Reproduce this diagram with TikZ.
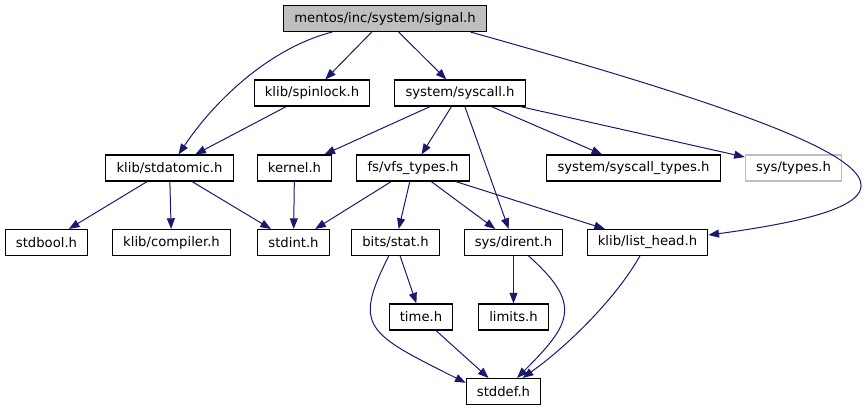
\documentclass[tikz,border=0pt]{standalone}
\usepackage{fontspec}
\setmainfont{DejaVu Sans}
\definecolor{edgeblue}{HTML}{191970}
\definecolor{boxgray}{HTML}{BFBFBF}
\usetikzlibrary{arrows.meta}
\tikzset{
	hfile/.style={draw=black, line width=0.8pt, inner xsep=8pt, inner ysep=0pt,
	  minimum height=19.5pt, font=\fontsize{9.9pt}{11pt}\selectfont}
}
\tikzset{
	dep/.style={edgeblue, line width=0.75pt, -{Triangle[length=8pt,width=6pt]}}
}

\begin{document}
\begin{tikzpicture}[x=0.75pt,y=-0.75pt]
  \useasboundingbox (0,0) rectangle (868,411);
  \node[hfile, fill=boxgray] (sig) at (385,18.5) {mentos/inc/system/signal.h};
  \foreach \n/\x/\y/\t in {
    spin/312/93/{klib/spinlock.h}, sysc/460/93/{system/syscall.h},
    atomic/169.5/168/{klib/stdatomic.h}, kern/294.5/168/{kernel.h},
    vfs/413/168/{fs/vfs\_types.h}, sctypes/633.5/168/{system/syscall\_types.h},
    bool/46.5/242.5/{stdbool.h}, comp/171.5/242.5/{klib/compiler.h},
    sint/293.5/242.5/{stdint.h}, stat/395.5/242.5/{bits/stat.h},
    dirent/513.5/242.5/{sys/dirent.h}, list/647.5/242.5/{klib/list\_head.h},
    time/421/317/{time.h}, limits/513.5/317/{limits.h},
    sdef/503.5/391.5/{stddef.h}}
    \node[hfile] (\n) at (\x,\y) {\t};
  \node[hfile, draw=boxgray] (stypes) at (793.5,168) {sys/types.h};
  % straight includes
  \foreach \a/\b in {
    sig/spin, sig/sysc, spin/atomic,
    sysc/kern, sysc/vfs, sysc/dirent, sysc/sctypes, sysc/stypes,
    atomic/bool, atomic/comp, atomic/sint, kern/sint,
    vfs/sint, vfs/stat, vfs/dirent, vfs/list,
    stat/time, time/sdef, dirent/limits}
    \draw[dep] (\a) -- (\b);
  % bent ones
  \draw[dep] (sig) .. controls (270,48) and (215,100) .. (atomic);
  \draw[dep] (sig.-9) .. controls (893,150) and (968,200) .. (list.7);
  \draw[dep] (stat) .. controls (353,327) and (366,333) .. (sdef.167);
  \draw[dep] (dirent) .. controls (583,304.5) and (571,324) .. (sdef);
  \draw[dep] (list) .. controls (615,300) and (565,348) .. (sdef);
\end{tikzpicture}
\end{document}
